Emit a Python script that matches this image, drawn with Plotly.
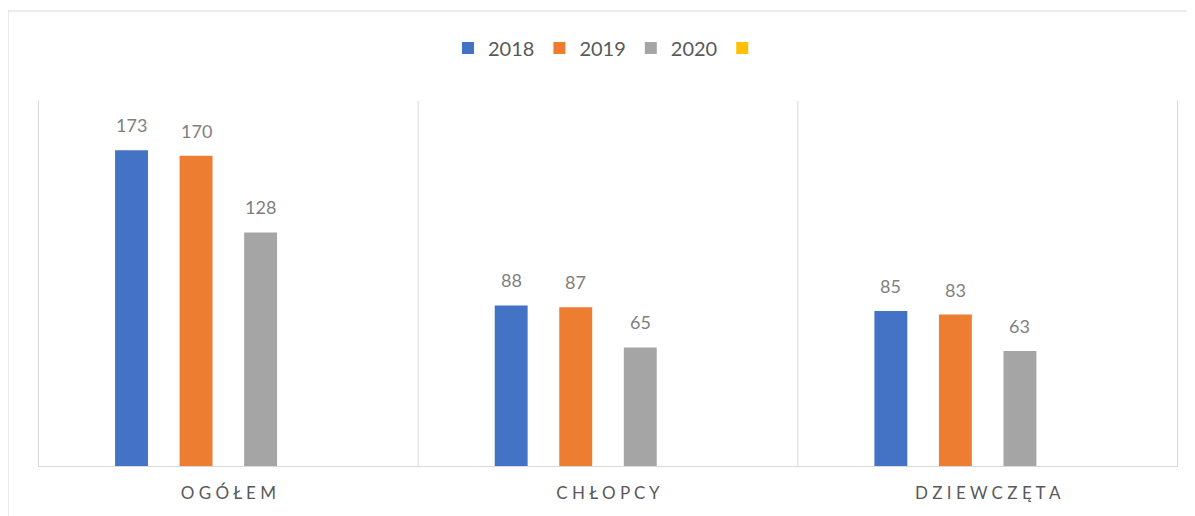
import plotly.graph_objects as go

# dane
categories = ["OGÓŁEM", "CHŁOPCY", "DZIEWCZĘTA"]
tick_labels = [" ".join(c) for c in categories]
years = ["2018", "2019", "2020", ""]
values_2018 = [173, 88, 85]
values_2019 = [170, 87, 83]
values_2020 = [128, 65, 63]
values_extra = [None, None, None]

COLORS = ["#4472C4", "#ED7D31", "#A5A5A5", "#FFC000"]
FONT = "Lato, 'Open Sans', sans-serif"
GRID = "#D9D9D9"
BARGAP = 0.32

fig = go.Figure()
series = [values_2018, values_2019, values_2020, values_extra]
for name, vals, color in zip(years, series, COLORS):
    fig.add_trace(go.Bar(
        x=categories,
        y=vals,
        name=name,
        marker=dict(color=color, line=dict(width=0)),
        hoverinfo="skip",
    ))

# etykiety danych nad słupkami (środek slotu w grupie)
slot = (1 - BARGAP) / len(series)
annotations = []
for i, vals in enumerate(series):
    off = (i - (len(series) - 1) / 2) * slot
    for j, v in enumerate(vals):
        if v is None:
            continue
        annotations.append(dict(
            x=j + off, y=v, xref="x", yref="y",
            text=str(v), showarrow=False,
            yanchor="bottom", yshift=12,
            font=dict(size=18, color="#7F7F7F", family=FONT),
        ))

# pionowe linie między kategoriami
shapes = []
for xv in [-0.5, 0.5, 1.5, 2.5]:
    shapes.append(dict(type="line", xref="x", yref="paper", x0=xv, x1=xv, y0=0, y1=1,
                       line=dict(color=GRID, width=1), layer="below"))
# ramka wykresu
shapes.append(dict(type="rect", xref="paper", yref="paper", x0=-0.0263, x1=1.05,
                   y0=-0.25, y1=1.2466, line=dict(color=GRID, width=1)))

fig.update_layout(
    width=1195,
    height=516,
    margin=dict(l=30, r=25, t=93, b=58),
    barmode="group",
    bargap=BARGAP,
    bargroupgap=0.49,
    plot_bgcolor="white",
    paper_bgcolor="white",
    font=dict(family=FONT, color="#595959"),
    shapes=shapes,
    annotations=annotations,
    legend=dict(
        orientation="h",
        x=0.5, xanchor="center",
        y=1.145, yanchor="middle",
        font=dict(size=20, color="#595959", family=FONT),
        itemclick=False,
    ),
    xaxis=dict(
        tickmode="array",
        tickvals=categories,
        ticktext=tick_labels,
        tickfont=dict(size=17, color="#595959", family=FONT),
        showline=True,
        linecolor=GRID,
        linewidth=1,
        showgrid=False,
        ticks="",
        ticklabelstandoff=12,
    ),
    yaxis=dict(
        range=[0, 200],
        visible=False,
        showgrid=False,
    ),
)

fig.write_html("out.html")
